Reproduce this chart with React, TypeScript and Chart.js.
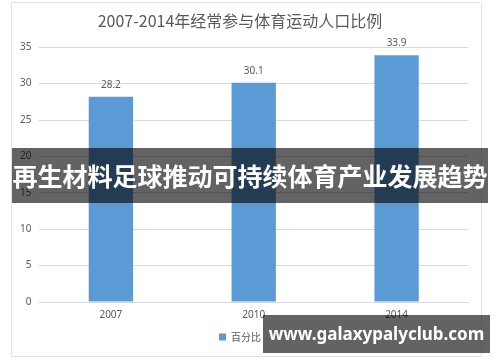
import React, { useEffect, useRef } from "react";
import { Chart, registerables } from "chart.js";

Chart.register(...registerables);

const categories = ["2007", "2010", "2014"];
const seriesValues = [28.2, 30.1, 33.9];
const seriesName = "百分比";
const chartTitle = "2007-2014年经常参与体育运动人口比例";
const bannerText = "再生材料足球推动可持续体育产业发展趋势";
const watermarkText = "www.galaxypalyclub.com";

const labelPlugin = {
  id: "valueLabels",
  afterDatasetsDraw(chart: any) {
    const ctx = chart.ctx;
    const meta = chart.getDatasetMeta(0);
    ctx.save();
    ctx.font = "10px 'Noto Sans', 'Noto Sans CJK SC', sans-serif";
    ctx.fillStyle = "#595959";
    ctx.textAlign = "center";
    ctx.textBaseline = "bottom";
    meta.data.forEach((bar: any, i: number) => {
      ctx.fillText(String(seriesValues[i].toFixed(1)), bar.x, bar.y - 7);
    });
    ctx.restore();
  },
};

export default function App() {
  const ref = useRef<HTMLCanvasElement>(null);
  useEffect(() => {
    document.body.style.margin = "0";
    const chart = new Chart(ref.current!, {
      type: "bar",
      data: {
        labels: categories,
        datasets: [
          {
            label: seriesName,
            data: seriesValues,
            backgroundColor: "#5B9BD5",
            categoryPercentage: 0.31,
            barPercentage: 1,
          },
        ],
      },
      options: {
        animation: false,
        responsive: false,
        maintainAspectRatio: false,
        layout: { padding: { left: 12, right: 32, top: 0, bottom: 10 } },
        plugins: {
          title: {
            display: true,
            text: chartTitle,
            color: "#595959",
            font: { size: 16, family: "'Noto Sans CJK SC', sans-serif", weight: "normal" },
            padding: { top: 11, bottom: 17 },
          },
          legend: {
            display: true,
            position: "bottom",
            labels: {
              boxWidth: 7,
              boxHeight: 7,
              padding: 4,
              color: "#595959",
              font: { size: 10, family: "'Noto Sans CJK SC', sans-serif" },
            },
          },
          tooltip: { enabled: false },
        },
        scales: {
          x: {
            grid: { display: false, drawTicks: false },
            border: { display: true, color: "#d9d9d9" },
            ticks: {
              color: "#595959",
              font: { size: 10, family: "'Noto Sans', sans-serif" },
              padding: 7,
            },
          },
          y: {
            min: 0,
            max: 35,
            ticks: {
              stepSize: 5,
              color: "#595959",
              font: { size: 10, family: "'Noto Sans', sans-serif" },
              padding: 8,
            },
            grid: { color: "#d9d9d9", drawTicks: false },
            border: { display: false },
          },
        },
      },
      plugins: [labelPlugin],
    });
    return () => chart.destroy();
  }, []);

  return (
    <div style={{ position: "relative", width: 500, height: 362, background: "#fff", overflow: "hidden" }}>
      <div
        style={{
          position: "absolute",
          left: 11,
          top: 2,
          width: 471,
          height: 355,
          border: "1px solid #e3e3e3",
          boxSizing: "border-box",
        }}
      />
      <canvas ref={ref} width={500} height={362} style={{ position: "absolute", left: 0, top: 0, width: 500, height: 362 }} />
      <div
        style={{
          position: "absolute",
          left: 12,
          top: 148,
          width: 476,
          height: 55,
          background: "rgba(0,0,0,0.61)",
          color: "#fff",
          fontFamily: "'Noto Sans CJK SC', sans-serif",
          fontWeight: 700,
          fontSize: 25,
          lineHeight: "55px",
          textAlign: "center",
          whiteSpace: "nowrap",
        }}
      >
        {bannerText}
      </div>
      <div
        style={{
          position: "absolute",
          left: 263,
          top: 315,
          width: 227,
          height: 38,
          background: "rgba(0,0,0,0.61)",
          color: "#fff",
          fontFamily: "'Noto Sans', sans-serif",
          fontWeight: 700,
          fontSize: 17,
          lineHeight: "38px",
          textAlign: "center",
          whiteSpace: "nowrap",
        }}
      >
        {watermarkText}
      </div>
    </div>
  );
}
